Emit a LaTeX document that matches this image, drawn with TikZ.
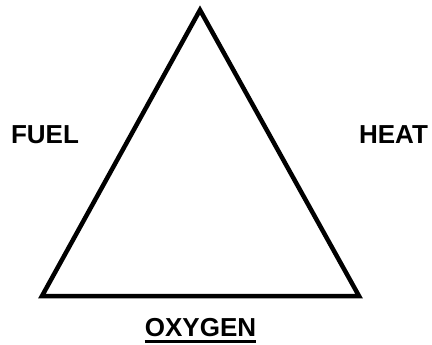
\documentclass[tikz,border=0pt]{standalone}
\usepackage{fontspec}
\setmainfont{Liberation Sans}
\begin{document}
\begin{tikzpicture}[x=1pt,y=-1pt,
  lbl/.style={font=\fontsize{26}{28}\selectfont\bfseries, inner sep=0pt}]
\useasboundingbox (0,0) rectangle (432,345);
\coordinate (apex) at (200,10);
\coordinate (bl) at (42,296);
\coordinate (br) at (359,296);
\draw[line width=4.5pt, line join=miter] (apex) -- (bl) -- (br) -- cycle;
\node[lbl] (fuel) at (45,135) {FUEL};
\node[lbl] (heat) at (393.5,135) {HEAT};
\node[lbl] (oxy) at (200.5,327.5) {OXYGEN};
\draw[line width=2.5pt] ([yshift=-4.5pt]oxy.south west) -- ([yshift=-4.5pt]oxy.south east);
\end{tikzpicture}
\end{document}
